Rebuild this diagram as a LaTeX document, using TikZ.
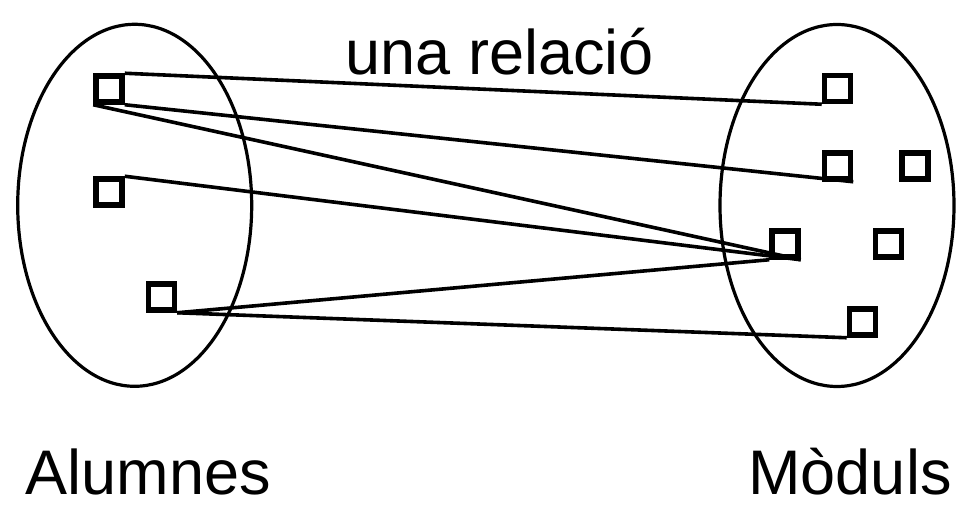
\documentclass[tikz,border=0pt]{standalone}
\usepackage{fontspec}
\setmainfont{Liberation Sans}
\usetikzlibrary{positioning,shapes.geometric}
\begin{document}
\begin{tikzpicture}[x=1pt,y=-1pt,
  set/.style={draw,ellipse,line width=3.2pt,inner sep=0,minimum width=234pt,minimum height=362pt},
  elem/.style={draw,rectangle,line width=5.5pt,inner sep=0,minimum size=26pt},
  rel/.style={line width=3.6pt},
  lbl/.style={inner sep=0,anchor=base,font=\fontsize{63}{72}\selectfont}]
  \useasboundingbox (0,0) rectangle (970,510);
  \node(alumnes)[set] at (134.7,205.3) {};
  \node(moduls)[set] at (837,205.5) {};
  \node(a1)[elem] at (109,89) {};
  \node(a2)[elem] at (109,192) {};
  \node(a3)[elem] at (161.5,297) {};
  \node(m1)[elem] at (837.5,88.5) {};
  \node(m2)[elem] at (837.5,166) {};
  \node(m3)[elem] at (915,166) {};
  \node(m4)[elem] at (785,244) {};
  \node(m5)[elem] at (888.5,244) {};
  \node(m6)[elem] at (862.5,322) {};
  \draw[rel] (a1.north east) -- (m1.south west);
  \draw[rel] (a1.south east) -- (m2.south east);
  \draw[rel] (a1.south west) -- (m4.south east);
  \draw[rel] (a2.north east) -- (m4.south east);
  \draw[rel] (a3.south east) -- (m4.south west);
  \draw[rel] (a3.south east) -- (m6.south west);
  \node(title)[lbl] at (500,75) {una relació};
  \node(lalumnes)[lbl] at (148.5,495) {Alumnes};
  \node(lmoduls)[lbl] at (850,495) {Mòduls};
\end{tikzpicture}
\end{document}
